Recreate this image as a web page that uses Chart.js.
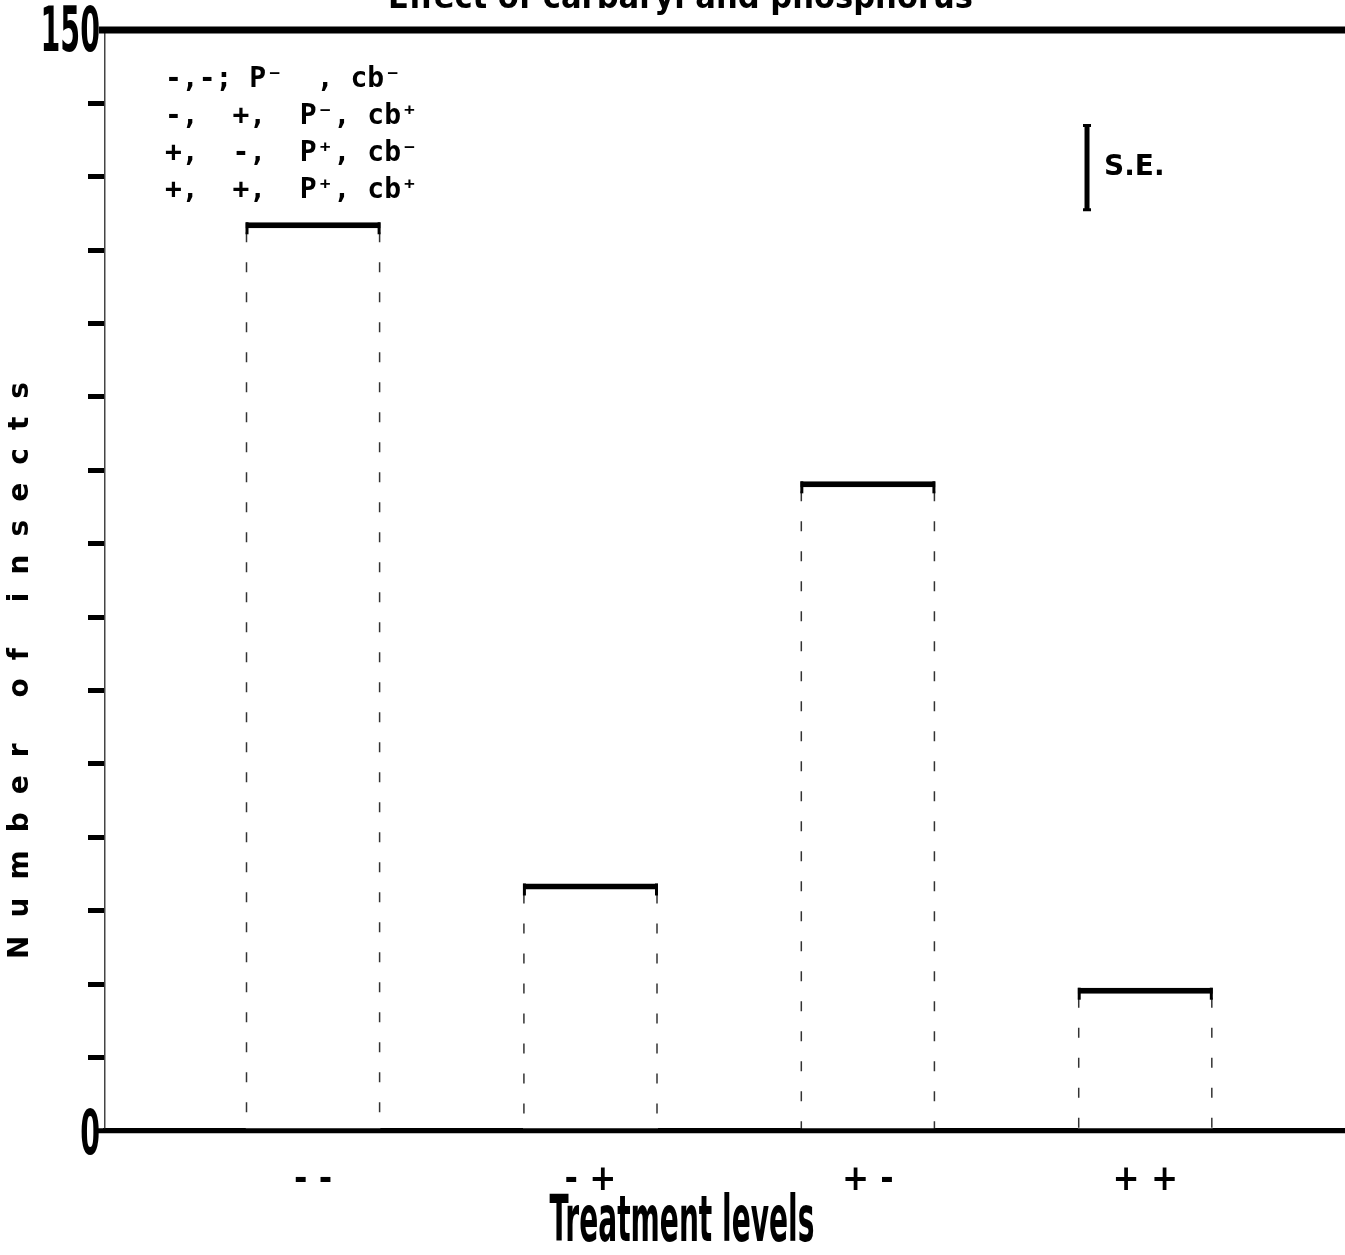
<!DOCTYPE html>
<html><head><meta charset="utf-8">
<script src="https://cdn.jsdelivr.net/npm/chart.js@4.4.1/dist/chart.umd.min.js"></script>
<style>html,body{margin:0;padding:0;background:#fff;overflow:hidden}#wrap{position:relative;width:1345px;height:1255px}canvas{display:block}</style>
</head><body><div id="wrap"><canvas id="c" width="1345" height="1255"></canvas></div>
<script>
const categories = ['- -', '- +', '+ -', '+ +'];
const values = [123.8, 33.7, 88.5, 19.5];
const yTickLabels = ['0', '150'];
const yTickValues = [0, 150];
const legendLines = ['-,-; P⁻  , cb⁻', '-,  +,  P⁻, cb⁺', '+,  -,  P⁺, cb⁻', '+,  +,  P⁺, cb⁺'];
const seValue = 11.5;
const seTop = 137;
const sePos = 3.79;
const chartTitle = 'Effect of carbaryl and phosphorus';
const xTitle = 'Treatment levels';
const yTitle = 'Number of insects';

const NARROW = '"Liberation Sans Narrow", "DejaVu Sans Condensed", "Arial Narrow", "Roboto Condensed", "Liberation Sans", sans-serif';

function tallText(ctx, text, x, y, sx, sy, align, baseline) {
  ctx.save();
  ctx.translate(x, y);
  ctx.scale(sx, sy);
  ctx.textAlign = align; ctx.textBaseline = baseline;
  ctx.fillText(text, 0, 0);
  ctx.restore();
}

const deco = {
  id: 'deco',
  afterDatasetsDraw(chart) {
    const {ctx, chartArea: a, scales: {x, y}} = chart;
    const meta = chart.getDatasetMeta(0);
    ctx.save();
    // dashed bar sides
    ctx.strokeStyle = '#333'; ctx.lineWidth = 1.5; ctx.setLineDash([10, 20]);
    meta.data.forEach(b => {
      const p = b.getProps(['x', 'y', 'base', 'width'], true);
      [p.x - p.width / 2 + 1, p.x + p.width / 2 - 1].forEach(xx => {
        ctx.beginPath(); ctx.moveTo(xx, p.y + 10); ctx.lineTo(xx, p.base); ctx.stroke();
      });
      ctx.save(); ctx.setLineDash([]); ctx.lineWidth = 3; ctx.strokeStyle = '#000';
      [p.x - p.width / 2 + 1.5, p.x + p.width / 2 - 1.5].forEach(xx => {
        ctx.beginPath(); ctx.moveTo(xx, p.y); ctx.lineTo(xx, p.y + 12); ctx.stroke();
      });
      ctx.restore();
    });
    ctx.setLineDash([]);
    ctx.strokeStyle = '#000';
    // baseline axis redrawn over the bars
    const y0 = y.getPixelForValue(0);
    ctx.lineWidth = 5;
    ctx.beginPath(); ctx.moveTo(a.left - 8, y0); ctx.lineTo(chart.width, y0); ctx.stroke();
    // top frame line at max
    const yt = y.getPixelForValue(y.max);
    ctx.lineWidth = 7;
    ctx.beginPath(); ctx.moveTo(a.left - 6, yt); ctx.lineTo(chart.width, yt); ctx.stroke();
    ctx.fillStyle = '#000';
    // y tick labels (0 and 150), tall condensed
    ctx.font = 'bold 44px ' + NARROW;
    yTickValues.forEach((v, i) => {
      const py = y.getPixelForValue(v);
      tallText(ctx, yTickLabels[i], a.left - 5, py + (v === y.max ? 5 : 7), 0.72, 1.4, 'right', 'middle');
    });
    // x axis title, tall condensed
    ctx.font = 'bold 40px ' + NARROW;
    tallText(ctx, xTitle, (a.left + a.right) / 2 - 43, 1224, 0.78, 1.6, 'center', 'middle');
    // y axis title, spaced out along the axis
    ctx.save();
    ctx.translate(21, 671);
    ctx.rotate(-Math.PI / 2);
    ctx.font = 'bold 28px "DejaVu Sans", sans-serif';
    const w0 = ctx.measureText(yTitle).width;
    const sp = (577 - w0) / (yTitle.length - 1);
    ctx.letterSpacing = sp + 'px';
    ctx.textAlign = 'left'; ctx.textBaseline = 'middle';
    ctx.fillText(yTitle, -288, 0);
    ctx.restore();
    // S.E. bar
    const sx = x.getPixelForValue(sePos);
    const s1 = y.getPixelForValue(seTop), s2 = y.getPixelForValue(seTop - seValue);
    ctx.lineWidth = 5;
    ctx.beginPath(); ctx.moveTo(sx, s1); ctx.lineTo(sx, s2); ctx.stroke();
    ctx.lineWidth = 3;
    ctx.beginPath(); ctx.moveTo(sx - 4, s1); ctx.lineTo(sx + 4, s1); ctx.moveTo(sx - 4, s2); ctx.lineTo(sx + 4, s2); ctx.stroke();
    ctx.font = 'bold 28px "DejaVu Sans", sans-serif';
    ctx.textAlign = 'left'; ctx.textBaseline = 'middle';
    ctx.fillText('S.E.', sx + 17, (s1 + s2) / 2);
    // legend text block
    ctx.font = 'bold 28px "DejaVu Sans Mono", "Liberation Mono", monospace';
    ctx.textAlign = 'left'; ctx.textBaseline = 'middle';
    legendLines.forEach((t, i) => ctx.fillText(t, a.left + 60, 80 + i * 37));
    // chart title (cut off at top)
    ctx.font = 'bold 34px ' + NARROW;
    ctx.textAlign = 'center'; ctx.textBaseline = 'alphabetic';
    ctx.fillText(chartTitle, chart.width / 2 + 8, 8);
    ctx.restore();
  }
};

const chart = new Chart(document.getElementById('c'), {
  type: 'bar',
  data: {
    datasets: [{
      data: values.map((v, i) => ({x: i + 1, y: v})),
      backgroundColor: '#fff',
      borderColor: '#000',
      borderWidth: {top: 6, left: 0, right: 0, bottom: 0},
      borderSkipped: 'start',
      categoryPercentage: 1,
      barPercentage: 0.487
    }]
  },
  options: {
    responsive: false,
    animation: false,
    devicePixelRatio: 1,
    layout: {padding: {left: 88, right: 0, top: 30, bottom: 25}},
    plugins: {legend: {display: false}, tooltip: {enabled: false}, title: {display: false}},
    scales: {
      x: {
        type: 'linear', min: 0.25, max: 4.72, offset: false,
        afterBuildTicks: s => { s.ticks = categories.map((_, i) => ({value: i + 1})); },
        ticks: {
          callback: v => categories[v - 1] ?? '',
          font: {size: 36, weight: 'bold', family: NARROW},
          color: '#000', padding: 28, maxRotation: 0, autoSkip: false
        },
        grid: {display: false, drawTicks: false},
        border: {display: true, color: '#000', width: 5},
        title: {display: false, text: xTitle}
      },
      y: {
        min: 0, max: 150,
        ticks: {stepSize: 10, display: false},
        grid: {
          drawOnChartArea: false, drawTicks: true, tickLength: 17, tickWidth: 5,
          tickColor: c => (c.tick && (c.tick.value === 0 || c.tick.value === 150)) ? 'rgba(0,0,0,0)' : '#000'
        },
        border: {display: true, color: '#444', width: 1.5, dash: [3, 9]}
      }
    }
  },
  plugins: [deco]
});
</script></body></html>
